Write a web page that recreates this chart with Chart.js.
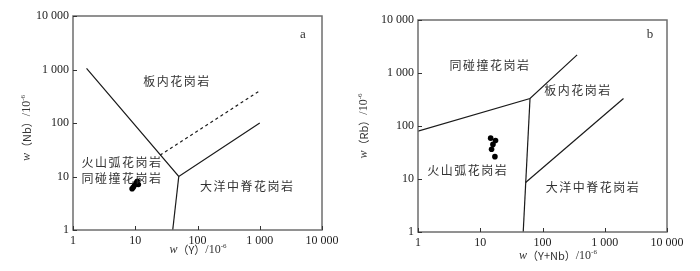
<!DOCTYPE html>
<html>
<head>
<meta charset="utf-8">
<script src="https://cdn.jsdelivr.net/npm/chart.js@4/dist/chart.umd.min.js"></script>
<style>
  html, body { margin: 0; padding: 0; background: #fff; }
  .panel { position: absolute; top: 0; width: 350px; height: 271px; }
  #pa { left: 0; }
  #pb { left: 350px; }
</style>
</head>
<body>
<div class="panel" id="pa"><canvas id="chartA" width="350" height="271"></canvas></div>
<div class="panel" id="pb"><canvas id="chartB" width="350" height="271"></canvas></div>
<script>
// Pearce-type discrimination diagrams (log-log)
const decades = [1, 10, 100, 1000, 10000];
const tickLabels = ["1", "10", "100", "1 000", "10 000"];

// panel a: Nb vs Y
const aSolidX = [1.65, 50, 1000];
const aSolidY = [1050, 10, 100];
const aStemX = [50, 40];
const aStemY = [10, 1];
const aDashX = [25, 1000];
const aDashY = [25, 400];
const aSampleY = [8.9, 9.3, 9.8, 10.4, 11.2, 10.8];
const aSampleNb = [5.9, 6.3, 6.9, 7.6, 7.1, 8.1];
const aLabels = ["板内花岗岩", "火山弧花岗岩", "同碰撞花岗岩", "大洋中脊花岗岩"];
const aLabelX = [47, 6.1, 6.1, 630];
const aLabelY = [610, 18, 9.4, 6.6];

// panel b: Rb vs Y+Nb
const bUpperX = [1, 63, 360];
const bUpperY = [80, 330, 2200];
const bStemX = [63, 49];
const bStemY = [330, 1];
const bOrgX = [53.5, 2000];
const bOrgY = [8.6, 330];
const bSampleX = [14.7, 17.6, 16, 15.2, 17.2];
const bSampleRb = [59, 53, 45, 36.5, 26.4];
const bLabels = ["同碰撞花岗岩", "板内花岗岩", "火山弧花岗岩", "大洋中脊花岗岩"];
const bLabelX = [14.3, 373, 6.3, 650];
const bLabelY = [1385, 465, 14.2, 7.0];

const serif = "'Liberation Serif', 'DejaVu Serif', serif";
const cjk = "'Noto Sans CJK SC', sans-serif";

function pts(xs, ys) {
  return xs.map((x, i) => ({ x, y: ys[i] }));
}

function lineSet(xs, ys, dash) {
  return {
    data: pts(xs, ys),
    showLine: true,
    borderColor: "#1a1a1a",
    borderWidth: 1.2,
    borderDash: dash || [],
    pointRadius: 0,
    fill: false,
  };
}

function drawParts(ctx, parts, x, y, rotate) {
  ctx.save();
  ctx.translate(x, y);
  if (rotate) ctx.rotate(-Math.PI / 2);
  let total = 0;
  parts.forEach((p) => {
    ctx.font = p.f;
    total += ctx.measureText(p.t).width;
  });
  let cx = -total / 2;
  ctx.fillStyle = "#333";
  ctx.textBaseline = "middle";
  ctx.textAlign = "left";
  parts.forEach((p) => {
    ctx.font = p.f;
    ctx.fillText(p.t, cx, p.sup ? -4 : 0);
    cx += ctx.measureText(p.t).width;
  });
  ctx.restore();
}

function titleParts(el) {
  return [
    { t: "w", f: "italic 12px " + serif },
    { t: "（" + el + "）", f: "11px " + cjk },
    { t: "/10", f: "12px " + serif },
    { t: "-6", f: "7px " + serif, sup: true },
  ];
}

function makePanel(canvasId, cfg) {
  const decorate = {
    id: "decorate",
    afterDraw(chart) {
      const ctx = chart.ctx;
      const { left, right, top, bottom } = chart.chartArea;
      const xs = chart.scales.x;
      const ys = chart.scales.y;
      ctx.save();
      // frame
      ctx.strokeStyle = "#6e6e6e";
      ctx.lineWidth = 1.5;
      ctx.strokeRect(left, top, right - left, bottom - top);
      // inward ticks
      ctx.strokeStyle = "#333";
      ctx.lineWidth = 1;
      decades.forEach((v) => {
        const px = Math.round(xs.getPixelForValue(v)) + 0.5;
        ctx.beginPath();
        ctx.moveTo(px, bottom);
        ctx.lineTo(px, bottom - 4);
        ctx.stroke();
        const py = Math.round(ys.getPixelForValue(v)) + 0.5;
        ctx.beginPath();
        ctx.moveTo(left, py);
        ctx.lineTo(left + 4, py);
        ctx.stroke();
      });
      // region labels
      ctx.fillStyle = "#333";
      ctx.font = "12px " + cjk;
      ctx.textAlign = "center";
      ctx.textBaseline = "middle";
      ctx.letterSpacing = "1.5px";
      cfg.labels.forEach((t, i) => {
        ctx.fillText(
          t,
          xs.getPixelForValue(cfg.labelX[i]),
          ys.getPixelForValue(cfg.labelY[i]),
        );
      });
      ctx.letterSpacing = "0px";
      // panel letter
      ctx.font = "13px " + serif;
      ctx.fillText(cfg.letter, cfg.letterPos[0], cfg.letterPos[1]);
      ctx.restore();
      // axis titles
      drawParts(ctx, titleParts(cfg.xTitle), cfg.xTitlePos[0], cfg.xTitlePos[1], false);
      drawParts(ctx, titleParts(cfg.yTitle), cfg.yTitlePos[0], cfg.yTitlePos[1], true);
    },
  };

  const logAxis = (fitKey, fitVal) => ({
    type: "logarithmic",
    min: 1,
    max: 10000,
    afterBuildTicks: (s) => {
      s.ticks = decades.map((v) => ({ value: v }));
    },
    afterFit: (s) => {
      s[fitKey] = fitVal;
    },
    ticks: {
      autoSkip: false,
      maxRotation: 0,
      padding: 4,
      color: "#222",
      font: { family: serif, size: 12 },
      callback: (v) => tickLabels[decades.indexOf(v)],
    },
    grid: { drawOnChartArea: false, drawTicks: false },
    border: { display: false },
  });

  return new Chart(document.getElementById(canvasId), {
    type: "scatter",
    data: {
      datasets: [
        ...cfg.lines,
        {
          data: cfg.samples,
          pointRadius: 2.8,
          pointBackgroundColor: "#000",
          pointBorderWidth: 0,
          showLine: false,
        },
      ],
    },
    options: {
      responsive: false,
      animation: false,
      devicePixelRatio: 1,
      layout: { padding: cfg.padding },
      plugins: {
        legend: { display: false },
        tooltip: { enabled: false },
      },
      scales: {
        x: logAxis("height", cfg.xAxisH),
        y: logAxis("width", cfg.yAxisW),
      },
    },
    plugins: [decorate],
  });
}

makePanel("chartA", {
  lines: [
    lineSet(aSolidX, aSolidY),
    lineSet(aStemX, aStemY),
    lineSet(aDashX, aDashY, [3, 3]),
  ],
  samples: pts(aSampleY, aSampleNb),
  labels: aLabels,
  labelX: aLabelX,
  labelY: aLabelY,
  padding: { top: 16, right: 28, left: 0, bottom: 0 },
  xAxisH: 41,
  yAxisW: 73,
  letter: "a",
  letterPos: [303, 35],
  xTitle: "Y",
  xTitlePos: [198, 250],
  yTitle: "Nb",
  yTitlePos: [27, 128],
});

makePanel("chartB", {
  lines: [
    lineSet(bUpperX, bUpperY),
    lineSet(bStemX, bStemY),
    lineSet(bOrgX, bOrgY),
  ],
  samples: pts(bSampleX, bSampleRb),
  labels: bLabels,
  labelX: bLabelX,
  labelY: bLabelY,
  padding: { top: 20, right: 33, left: 0, bottom: 0 },
  xAxisH: 39,
  yAxisW: 68,
  letter: "b",
  letterPos: [300, 35],
  xTitle: "Y+Nb",
  xTitlePos: [208, 256],
  yTitle: "Rb",
  yTitlePos: [14, 126],
});
</script>
</body>
</html>
